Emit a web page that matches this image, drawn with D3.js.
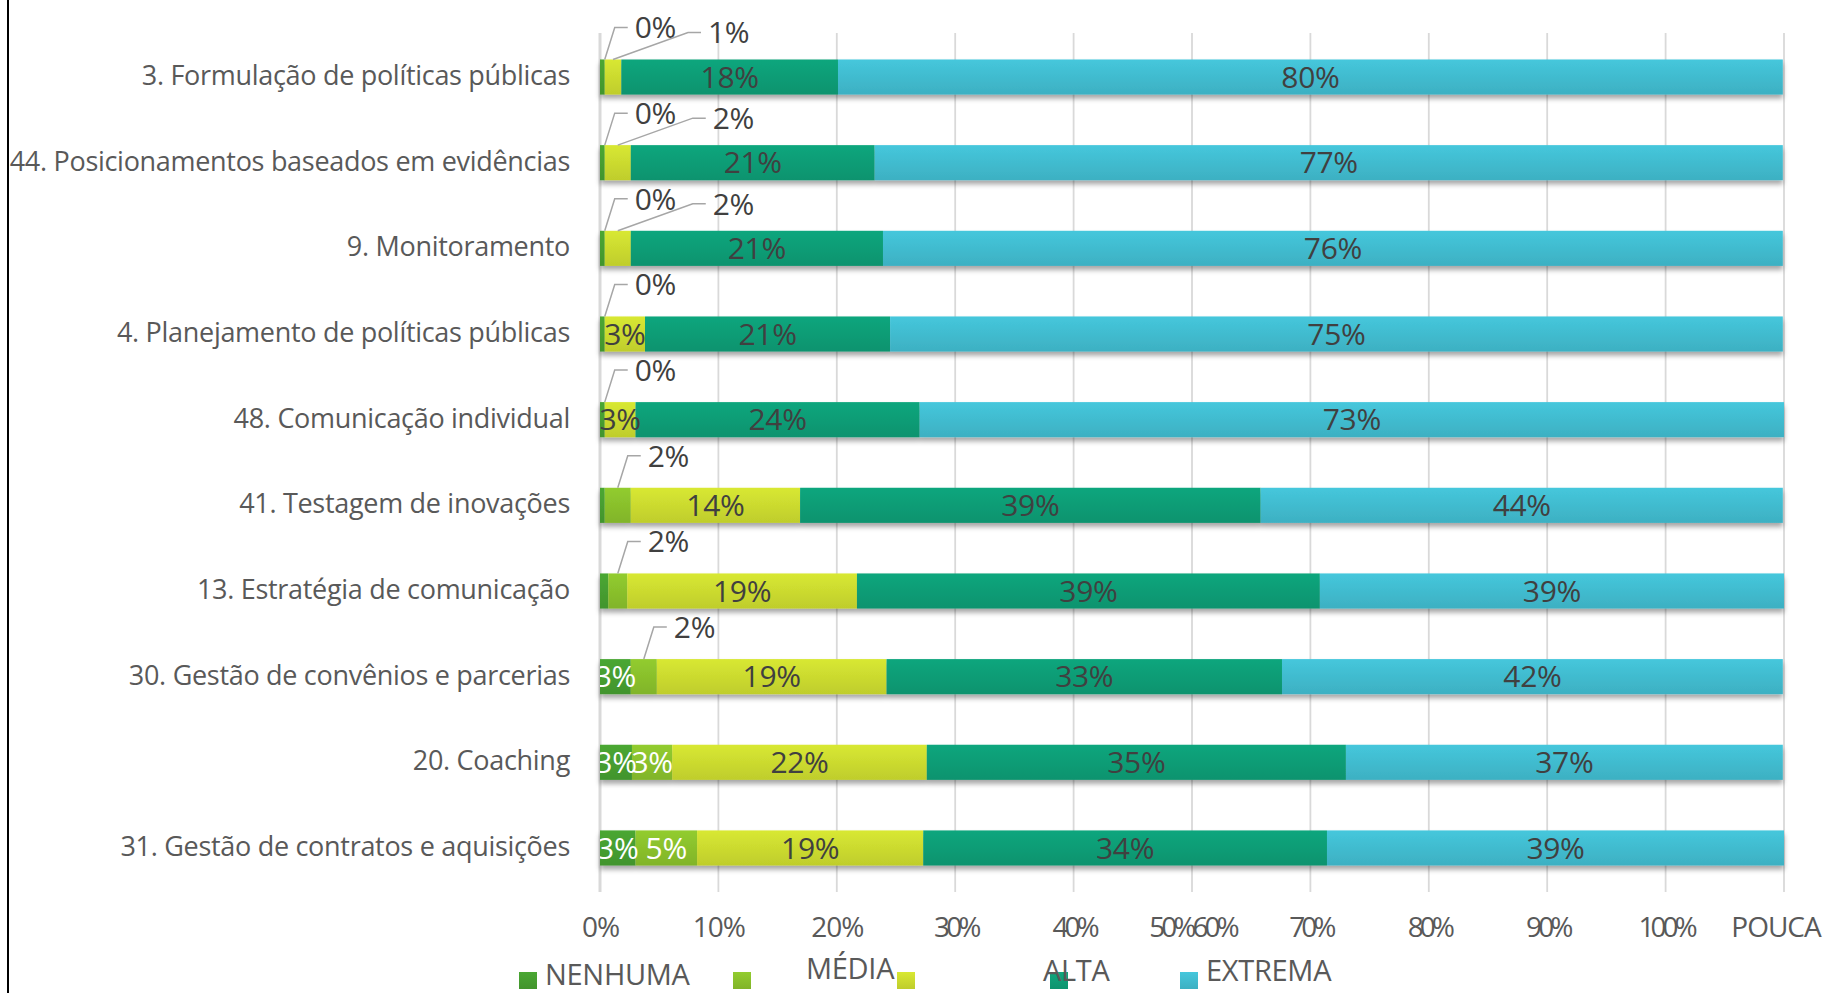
<!DOCTYPE html>
<html>
<head>
<meta charset="utf-8">
<script src="https://cdn.jsdelivr.net/npm/d3@7"></script>
<style>
  html, body { margin: 0; padding: 0; background: #ffffff; }
  svg { display: block; }
  text { font-family: "Open Sans", "Noto Sans", sans-serif; }
</style>
</head>
<body>
<svg id="chart" width="1827" height="993"></svg>
<script>
// ---------- data ----------
const categories = [
  "3. Formulação de políticas públicas",
  "44. Posicionamentos baseados em evidências",
  "9. Monitoramento",
  "4. Planejamento de políticas públicas",
  "48. Comunicação individual",
  "41. Testagem de inovações",
  "13. Estratégia de comunicação",
  "30. Gestão de convênios e parcerias",
  "20. Coaching",
  "31. Gestão de contratos e aquisições"
];
const seriesNames = ["NENHUMA", "POUCA", "MÉDIA", "ALTA", "EXTREMA"];
const nenhuma = [0.4, 0.4, 0.4, 0.4, 0.4, 0.4, 0.7, 2.6, 2.7, 3.0];
const pouca   = [0, 0, 0, 0, 0, 2.2, 1.6, 2.2, 3.4, 5.2];
const media   = [1.4, 2.2, 2.2, 3.4, 2.6, 14.3, 19.4, 19.4, 21.5, 19.1];
const alta    = [18.3, 20.6, 21.3, 20.7, 24.0, 38.9, 39.1, 33.4, 35.4, 34.1];
const extrema = [79.8, 76.7, 76.0, 75.4, 73.0, 44.1, 39.2, 42.3, 36.9, 38.6];
const tickValues = [0, 10, 20, 30, 40, 50, 60, 70, 80, 90, 100];
const tickLabels = ["0%", "10%", "20%", "30%", "40%", "50%60%", "70%", "80%", "90%", "100%", "POUCA"];

// ---------- styles ----------
const colors = ["#44992f", "#86bb2b", "#c6d42e", "#0f9872", "#3fb6c9"];
const labelColors = ["#ffffff", "#ffffff", "#404040", "#404040", "#404040"];

const svg = d3.select("#chart");
const defs = svg.append("defs");

const table = categories.map((c, i) => {
  const vals = [nenhuma[i], pouca[i], media[i], alta[i], extrema[i]];
  const o = { cat: c };
  seriesNames.forEach((s, k) => o[s] = vals[k]);
  return o;
});
const stacked = d3.stack().keys(seriesNames)(table);

const x = d3.scaleLinear().domain([0, 100]).range([600, 1784]);
const y = d3.scaleBand().domain(categories).range([34.2, 890.8])
  .paddingInner(0.59).paddingOuter(0.295);
const plotTop = 33, plotBottom = 892;

// gradients & shadow
colors.forEach((c, k) => {
  const g = defs.append("linearGradient").attr("id", "g" + k)
    .attr("x1", 0).attr("y1", 0).attr("x2", 0).attr("y2", 1);
  g.append("stop").attr("offset", "0%").attr("stop-color", d3.color(c).brighter(0.25));
  g.append("stop").attr("offset", "100%").attr("stop-color", d3.color(c).darker(0.1));
});
const f = defs.append("filter").attr("id", "shadow")
  .attr("x", "-5%").attr("y", "-30%").attr("width", "110%").attr("height", "170%");
f.append("feDropShadow").attr("dx", 0).attr("dy", 4).attr("stdDeviation", 2.5)
  .attr("flood-color", "#000").attr("flood-opacity", 0.35);
defs.append("clipPath").attr("id", "plotClip").append("rect")
  .attr("x", 600).attr("y", 0).attr("width", 1200).attr("height", 993);

// left border line
svg.append("line").attr("x1", 8).attr("x2", 8).attr("y1", 0).attr("y2", 993)
  .attr("stroke", "#000").attr("stroke-width", 2);

// gridlines
svg.append("g").selectAll("line").data(tickValues).join("line")
  .attr("x1", d => x(d)).attr("x2", d => x(d))
  .attr("y1", plotTop).attr("y2", plotBottom)
  .attr("stroke", "#d9d9d9").attr("stroke-width", d => d === 0 ? 3 : 1.8);

// x axis labels
const xAxis = d3.axisBottom(x).tickValues(tickValues)
  .tickFormat((d, i) => tickLabels[i]).tickSize(0).tickPadding(0);
const gx = svg.append("g").attr("transform", `translate(0,${plotBottom})`).call(xAxis);
gx.select(".domain").remove();
gx.selectAll("text").attr("dy", 0).attr("y", 45)
  .attr("font-size", 28).attr("fill", "#595959")
  .style("font-family", '"Open Sans", sans-serif')
  .attr("letter-spacing", (d, i) => (i >= 3 && i < 10) ? -4 : -1);
// keep the last label inside the picture
gx.selectAll(".tick").each(function () {
  const t = d3.select(this).select("text");
  const b = t.node().getBBox();
  const m = this.transform.baseVal.consolidate().matrix;
  const right = m.e + b.x + b.width;
  if (right > 1822) t.attr("x", 1822 - right);
});

// category labels
const yAxis = d3.axisLeft(y).tickSize(0).tickPadding(0);
const gy = svg.append("g").attr("transform", "translate(570,0)").call(yAxis);
gy.select(".domain").remove();
gy.selectAll("text").attr("font-size", 27).attr("fill", "#595959")
  .style("font-family", '"Open Sans", sans-serif').attr("dy", "0.3em")
  .attr("letter-spacing", -0.3);

// bars
const barG = svg.append("g").attr("filter", "url(#shadow)");
stacked.forEach((layer, k) => {
  barG.append("g").selectAll("rect").data(layer).join("rect")
    .attr("x", d => x(d[0]))
    .attr("y", d => y(d.data.cat))
    .attr("width", d => Math.max(0, x(d[1]) - x(d[0])))
    .attr("height", y.bandwidth())
    .attr("fill", `url(#g${k})`);
});

// data labels
const inside = [], outside = [];
stacked.forEach((layer, k) => {
  layer.forEach((d, i) => {
    const v = d[1] - d[0];
    if (v > 0 && v < 1) return; // tiny labels are hidden in the reference
    const item = { k, i, v, x0: x(d[0]), x1: x(d[1]), cat: d.data.cat, txt: Math.round(v) + "%" };
    if (v < 2.5) outside.push(item); else inside.push(item);
  });
});

const labG = svg.append("g").attr("clip-path", "url(#plotClip)");
labG.selectAll("text").data(inside).join("text")
  .attr("x", d => (d.x0 + d.x1) / 2)
  .attr("y", d => y(d.cat) + y.bandwidth() / 2)
  .attr("dy", "0.36em")
  .attr("text-anchor", "middle")
  .attr("font-size", 30)
  .attr("letter-spacing", -0.3)
  .attr("fill", d => labelColors[d.k])
  .text(d => d.txt);

// outside labels with leader lines
const outG = svg.append("g");
d3.groups(outside, d => d.i).forEach(([i, items]) => {
  items.sort((a, b) => a.k - b.k);
  items.forEach((d, j) => {
    const ax = (d.x0 + d.x1) / 2;
    const top = y(d.cat);
    const tx = j === 0 ? ax + 30 : ax + 95;
    const ty = j === 0 ? top - 32 : top - 27;
    outG.append("polyline")
      .attr("points", [[ax, top], [tx - 20, ty], [tx - 7, ty]].map(p => p.join(",")).join(" "))
      .attr("fill", "none").attr("stroke", "#a6a6a6").attr("stroke-width", 1.5);
    outG.append("text")
      .attr("x", tx).attr("y", ty).attr("dy", "0.36em")
      .attr("font-size", 30).attr("fill", "#404040").attr("letter-spacing", -0.3)
      .text(d.txt);
  });
});

// legend (layout as in reference)
const legendLayout = [
  { sq: 519, tx: 545, ty: 975 },
  { sq: 733, tx: null, ty: 0 },
  { sq: 897, tx: 806, ty: 969 },
  { sq: 1050, tx: 1043, ty: 971 },
  { sq: 1180, tx: 1206, ty: 971 }
];
const lg = svg.append("g");
seriesNames.forEach((s, k) => {
  const L = legendLayout[k];
  lg.append("rect").attr("x", L.sq).attr("y", 972).attr("width", 18).attr("height", 17)
    .attr("fill", `url(#g${k})`);
  if (L.tx !== null) {
    lg.append("text").attr("x", L.tx).attr("y", L.ty).attr("dy", "0.36em")
      .attr("font-size", 29).attr("fill", "#595959").attr("letter-spacing", -0.3)
      .text(s);
  }
});
</script>
</body>
</html>
